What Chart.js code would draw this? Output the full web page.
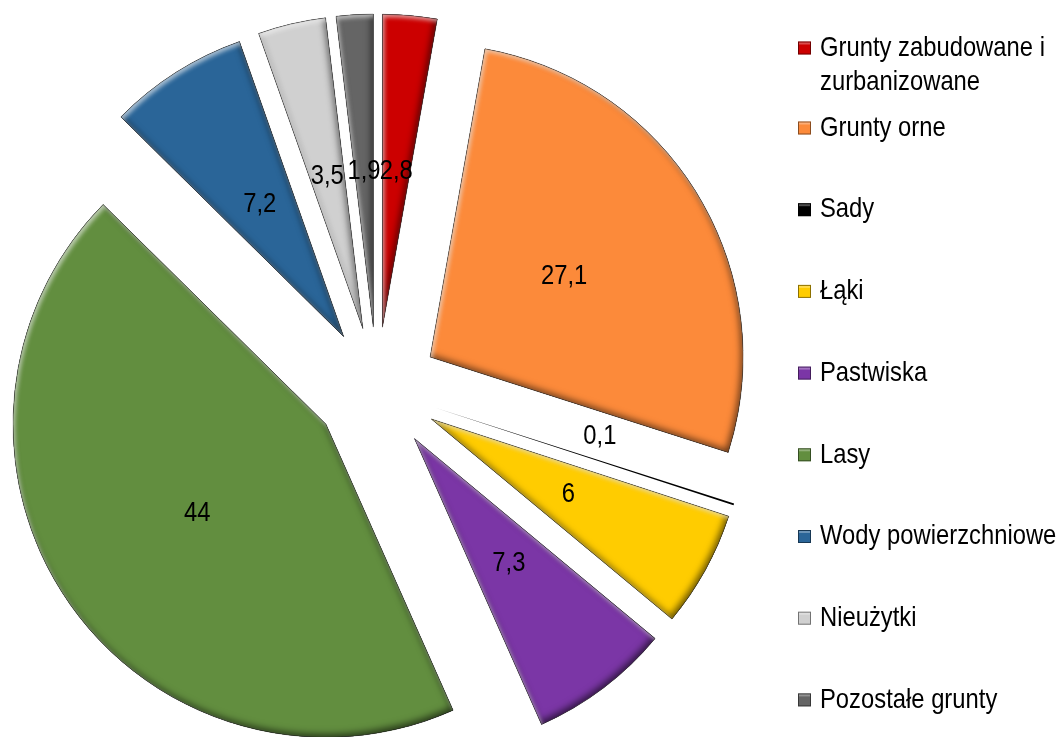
<!DOCTYPE html>
<html>
<head>
<meta charset="utf-8">
<script src="https://cdn.jsdelivr.net/npm/chart.js@4.4.1/dist/chart.umd.min.js"></script>
<style>
  html, body { margin: 0; padding: 0; background: #fff; overflow: hidden; }
  canvas { display: block; }
</style>
</head>
<body>
<canvas id="wykres" width="1062" height="737"></canvas>
<script>
// dane wykresu
const kategorie = ['Grunty zabudowane i zurbanizowane', 'Grunty orne', 'Sady', 'Łąki', 'Pastwiska',
                   'Lasy', 'Wody powierzchniowe', 'Nieużytki', 'Pozostałe grunty'];
const udzialy = [2.8, 27.1, 0.1, 6, 7.3, 44, 7.2, 3.5, 1.9];
const kolory = ['#CC0000', '#FC8A3A', '#000000', '#FFCC00', '#7B36A6', '#628E3F', '#2A6598', '#D0D0D0', '#656565'];

const FONT = '28px "Liberation Sans", Arial, sans-serif';
const SKALA_X = 0.85;  // tekst lekko zwężony, jak w oryginale
const EXPLODE = 62;    // wysunięcie wycinków (px)

// tekst zwężony w poziomie
function napis(ctx, t, x, y) {
  ctx.save();
  ctx.translate(x, y);
  ctx.scale(SKALA_X, 1);
  ctx.fillText(t, 0, 0);
  ctx.restore();
}

// ścieżka wycinka z geometrii elementu Chart.js
function sciezka(arc) {
  const p = new Path2D();
  p.moveTo(arc.x, arc.y);
  p.arc(arc.x, arc.y, arc.outerRadius, arc.startAngle, arc.endAngle);
  p.closePath();
  return p;
}

// efekt fazowania: cień wewnętrzny z prawej/dołu, rozjaśnienie z lewej/góry
function fazowanie(ctx, arc) {
  const p = sciezka(arc);
  const zewn = new Path2D();
  zewn.rect(-3000, -3000, 7000, 7000);
  zewn.addPath(p);
  ctx.save();
  ctx.clip(p);
  ctx.fillStyle = '#000';
  ctx.shadowColor = 'rgba(0,0,0,0.6)';
  ctx.shadowBlur = 7;
  ctx.shadowOffsetX = -2;
  ctx.shadowOffsetY = -3;
  ctx.fill(zewn, 'evenodd');
  ctx.shadowColor = 'rgba(255,255,255,0.6)';
  ctx.shadowBlur = 4;
  ctx.shadowOffsetX = 2;
  ctx.shadowOffsetY = 3;
  ctx.fill(zewn, 'evenodd');
  ctx.restore();
  ctx.save();
  ctx.strokeStyle = 'rgba(0,0,0,0.3)';
  ctx.lineWidth = 1;
  ctx.stroke(p);
  ctx.restore();
}

const wysuniecie = {
  id: 'wysuniecie',
  beforeDatasetDraw(chart, args) {
    const ctx = chart.ctx;
    args.meta.data.forEach(arc => {
      const mid = (arc.startAngle + arc.endAngle) / 2;
      ctx.save();
      ctx.translate(Math.cos(mid) * EXPLODE, Math.sin(mid) * EXPLODE);
      arc.draw(ctx);
      if (arc.circumference > 0.02) fazowanie(ctx, arc);
      ctx.restore();
    });
    return false;
  },
  afterDatasetsDraw(chart) {
    const ctx = chart.ctx;
    const meta = chart.getDatasetMeta(0);
    ctx.save();
    ctx.font = FONT;
    ctx.fillStyle = '#000';
    ctx.textAlign = 'center';
    ctx.textBaseline = 'middle';
    meta.data.forEach((arc, i) => {
      const mid = (arc.startAngle + arc.endAngle) / 2;
      const c = arc.getCenterPoint();
      let x = c.x + Math.cos(mid) * EXPLODE;
      let y = c.y + Math.sin(mid) * EXPLODE;
      if (udzialy[i] < 1) {
        // mała wartość: etykieta nad linią wycinka
        x += Math.cos(mid) * 8 + Math.sin(mid) * 24;
        y += Math.sin(mid) * 8 - Math.cos(mid) * 24;
      }
      napis(ctx, String(udzialy[i]).replace('.', ','), x, y);
    });
    ctx.restore();
  },
  afterDraw(chart) {
    // legenda po prawej
    const ctx = chart.ctx;
    const kwX = 798, tekstX = 820, kw = 13;
    const maxW = chart.width - tekstX - 2;
    ctx.save();
    ctx.font = FONT;
    ctx.textAlign = 'left';
    ctx.textBaseline = 'middle';
    kategorie.forEach((nazwa, i) => {
      const y = i === 0 ? 48 : 128 + (i - 1) * 81.7;
      // zawijanie tekstu
      const linie = [];
      let biez = '';
      nazwa.split(' ').forEach(s => {
        const proba = biez ? biez + ' ' + s : s;
        if (ctx.measureText(proba).width * SKALA_X > maxW && biez) {
          linie.push(biez);
          biez = s;
        } else {
          biez = proba;
        }
      });
      linie.push(biez);
      ctx.fillStyle = kolory[i];
      ctx.fillRect(kwX, y - kw / 2, kw, kw);
      ctx.strokeStyle = 'rgba(0,0,0,0.45)';
      ctx.lineWidth = 1;
      ctx.strokeRect(kwX + 0.5, y - kw / 2 + 0.5, kw - 1, kw - 1);
      ctx.fillStyle = 'rgba(255,255,255,0.3)';
      ctx.fillRect(kwX + 1, y - kw / 2 + 1, kw - 2, 2);
      ctx.fillStyle = '#000';
      linie.forEach((l, k) => napis(ctx, l, tekstX, y + k * 34));
    });
    ctx.restore();
  }
};

new Chart(document.getElementById('wykres'), {
  type: 'pie',
  data: {
    labels: kategorie,
    datasets: [{
      data: udzialy,
      backgroundColor: kolory,
      borderWidth: 0
    }]
  },
  options: {
    responsive: false,
    animation: false,
    layout: { padding: { left: 64, top: 76, right: 372, bottom: 35 } },
    plugins: {
      legend: { display: false },
      tooltip: { enabled: false }
    }
  },
  plugins: [wysuniecie]
});
</script>
</body>
</html>
